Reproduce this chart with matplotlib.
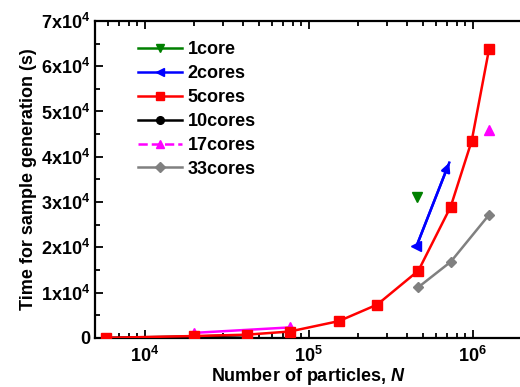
import matplotlib
matplotlib.use("Agg")
import matplotlib.pyplot as plt
from matplotlib.lines import Line2D
from matplotlib.ticker import FixedLocator, FixedFormatter, MultipleLocator, LogLocator, NullFormatter

plt.rcParams['font.family'] = 'Liberation Sans'
plt.rcParams['font.weight'] = 'bold'
plt.rcParams['mathtext.fontset'] = 'custom'
plt.rcParams['mathtext.rm'] = 'Liberation Sans:bold'
plt.rcParams['mathtext.bf'] = 'Liberation Sans:bold'
plt.rcParams['mathtext.it'] = 'Liberation Sans:italic:bold'

# data
n_1core = [4.6e5]
t_1core = [31000]

n_2cores = [4.54e5, 7.2e5]
t_2cores = [20200, 38700]

n_5cores = [5800, 2.0e4, 4.2e4, 7.66e4, 1.53e5, 2.62e5, 4.67e5, 7.35e5, 9.86e5, 1.26e6]
t_5cores = [0, 400, 700, 1400, 3700, 7350, 14850, 29000, 43500, 63900]

n_10cores = [5800, 2.0e4, 4.2e4]
t_10cores = [0, 300, 600]

n_17cores = [2.0e4, 7.66e4]
t_17cores = [1100, 2300]
n_17cores_big = [1.26e6]
t_17cores_big = [46000]

n_33cores = [4.67e5, 7.35e5, 1.26e6]
t_33cores = [11200, 16800, 27200]

yticks = [0, 1e4, 2e4, 3e4, 4e4, 5e4, 6e4, 7e4]
ytick_labels = ['0'] + [r'$\mathregular{%dx10^{4}}$' % i for i in range(1, 8)]
xticks = [1e4, 1e5, 1e6]
xtick_labels = [r'$\mathregular{10^{4}}$', r'$\mathregular{10^{5}}$', r'$\mathregular{10^{6}}$']

legend_names = ['1core', '2cores', '5cores', '10cores', '17cores', '33cores']
legend_colors = ['green', 'blue', 'red', 'black', 'magenta', 'gray']
legend_markers = ['v', '<', 's', 'o', '^', 'D']
legend_styles = ['-', '-', '-', '-', '--', '-']

fig = plt.figure(figsize=(5.2, 3.87), dpi=100)
ax = fig.add_axes([0.183, 0.127, 0.821, 0.819])

ms = 6.5
lw = 1.8
ax.plot(n_10cores, t_10cores, '-o', color='black', lw=lw, ms=ms, zorder=2)
ax.plot(n_1core, t_1core, 'v', color='green', ms=ms, zorder=3)
ax.plot(n_2cores, t_2cores, '-<', color='blue', lw=lw, ms=ms, markevery=[0], zorder=3)
ax.annotate('', xy=(n_2cores[1], t_2cores[1]), xytext=(n_2cores[0], t_2cores[0]),
            arrowprops=dict(arrowstyle='-|>', color='blue', lw=lw, mutation_scale=13,
                            shrinkA=0, shrinkB=0), zorder=3)
ax.plot(n_5cores, t_5cores, '-s', color='red', lw=lw, ms=ms, zorder=4)
ax.plot(n_17cores, t_17cores, '-^', color='magenta', lw=lw, ms=ms, zorder=3)
ax.plot(n_17cores_big, t_17cores_big, '^', color='magenta', ms=ms, zorder=3)
ax.plot(n_33cores, t_33cores, '-D', color='gray', lw=lw, ms=5.5, zorder=3)

handles = [Line2D([], [], color=c, marker=m, ls=s, lw=lw, ms=5.5)
           for c, m, s in zip(legend_colors, legend_markers, legend_styles)]
ax.legend(handles, legend_names, loc='upper left', bbox_to_anchor=(0.083, 0.958),
          frameon=False, fontsize=13, handlelength=2.45, handletextpad=0.3,
          labelspacing=0.38, borderaxespad=0)

ax.set_xscale('log')
ax.set_xlim(5000, 2.0e6)
ax.set_ylim(0, 7e4)

ax.yaxis.set_major_locator(FixedLocator(yticks))
ax.yaxis.set_major_formatter(FixedFormatter(ytick_labels))
ax.yaxis.set_minor_locator(MultipleLocator(5000))
ax.xaxis.set_major_locator(FixedLocator(xticks))
ax.xaxis.set_major_formatter(FixedFormatter(xtick_labels))
ax.xaxis.set_minor_locator(LogLocator(base=10, subs=range(2, 10)))
ax.xaxis.set_minor_formatter(NullFormatter())

ax.tick_params(which='both', direction='in', top=True, right=False, width=1.3, labelsize=13)
ax.tick_params(which='major', length=6)
ax.tick_params(which='minor', length=3.5)
ax.tick_params(axis='x', pad=6)
for s in ax.spines.values():
    s.set_linewidth(1.6)

ax.set_xlabel(r'Number of particles, $\mathit{N}$', fontsize=13, fontweight='bold', labelpad=0)
ax.set_ylabel('Time for sample generation (s)', fontsize=13, fontweight='bold', labelpad=3)

fig.savefig('out.png', dpi=100)
